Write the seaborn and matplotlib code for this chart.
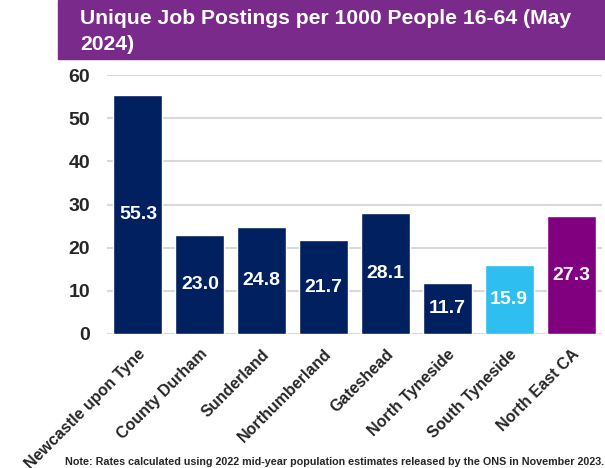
import matplotlib
matplotlib.use("Agg")
import matplotlib.pyplot as plt
import seaborn as sns
import pandas as pd
from matplotlib.patches import Rectangle

# data
areas = ["Newcastle upon Tyne", "County Durham", "Sunderland", "Northumberland",
         "Gateshead", "North Tyneside", "South Tyneside", "North East CA"]
postings = [55.3, 23.0, 24.8, 21.7, 28.1, 11.7, 15.9, 27.3]
bar_colours = ["#002060", "#002060", "#002060", "#002060",
               "#002060", "#002060", "#2FBEF0", "#800080"]

df = pd.DataFrame({"Area": areas, "Rate": postings})

sns.set_style("white")
plt.rcParams["font.family"] = ["Liberation Sans", "DejaVu Sans"]

fig = plt.figure(figsize=(6.05, 4.68), dpi=100)
ax = fig.add_axes([107 / 605, 1 - 334 / 468, 495 / 605, 259 / 468])

sns.barplot(data=df, x="Area", y="Rate", hue="Area", palette=bar_colours,
            saturation=1, width=0.79, legend=False, ax=ax, zorder=3)

ax.set_ylim(0, 60)
ax.set_xlim(-0.5, 7.5)
ax.set_yticks(range(0, 61, 10))
ax.grid(axis="y", color="#D9D9D9", linewidth=1.5, zorder=0)
ax.set_axisbelow(True)
sns.despine(ax=ax, left=True, bottom=True, top=True, right=True)
ax.tick_params(axis="both", length=0)
ax.tick_params(axis="y", pad=12)
ax.tick_params(axis="x", pad=9)
ax.set_xlabel("")
ax.set_ylabel("")

for lbl in ax.get_yticklabels():
    lbl.set_fontsize(14)
    lbl.set_fontweight("bold")
ax.set_xticks(range(len(areas)))
ax.set_xticklabels(areas, rotation=45, ha="right", rotation_mode="anchor",
                   fontsize=11.5, fontweight="bold")

# value labels at the middle of each bar
for i, v in enumerate(postings):
    ax.text(i, v / 2, f"{v:.1f}", ha="center", va="center", color="white",
            fontsize=14, fontweight="bold", zorder=4)

# purple title band
fig.patches.append(Rectangle((58 / 605, 1 - 59 / 468), 1, 59 / 468,
                             transform=fig.transFigure, color="#7A2A8A", zorder=0))
fig.text(80 / 605, 1 - 24 / 468, "Unique Job Postings per 1000 People 16-64 (May",
         color="white", fontsize=15.2, fontweight="bold", va="baseline")
fig.text(80 / 605, 1 - 50 / 468, "2024)",
         color="white", fontsize=15.2, fontweight="bold", va="baseline")

fig.text(65 / 605, 3 / 468,
         "Note: Rates calculated using 2022 mid-year population estimates released by the ONS in November 2023.",
         fontsize=7.75, fontweight="bold", va="baseline")

fig.savefig("out.png", dpi=100)
